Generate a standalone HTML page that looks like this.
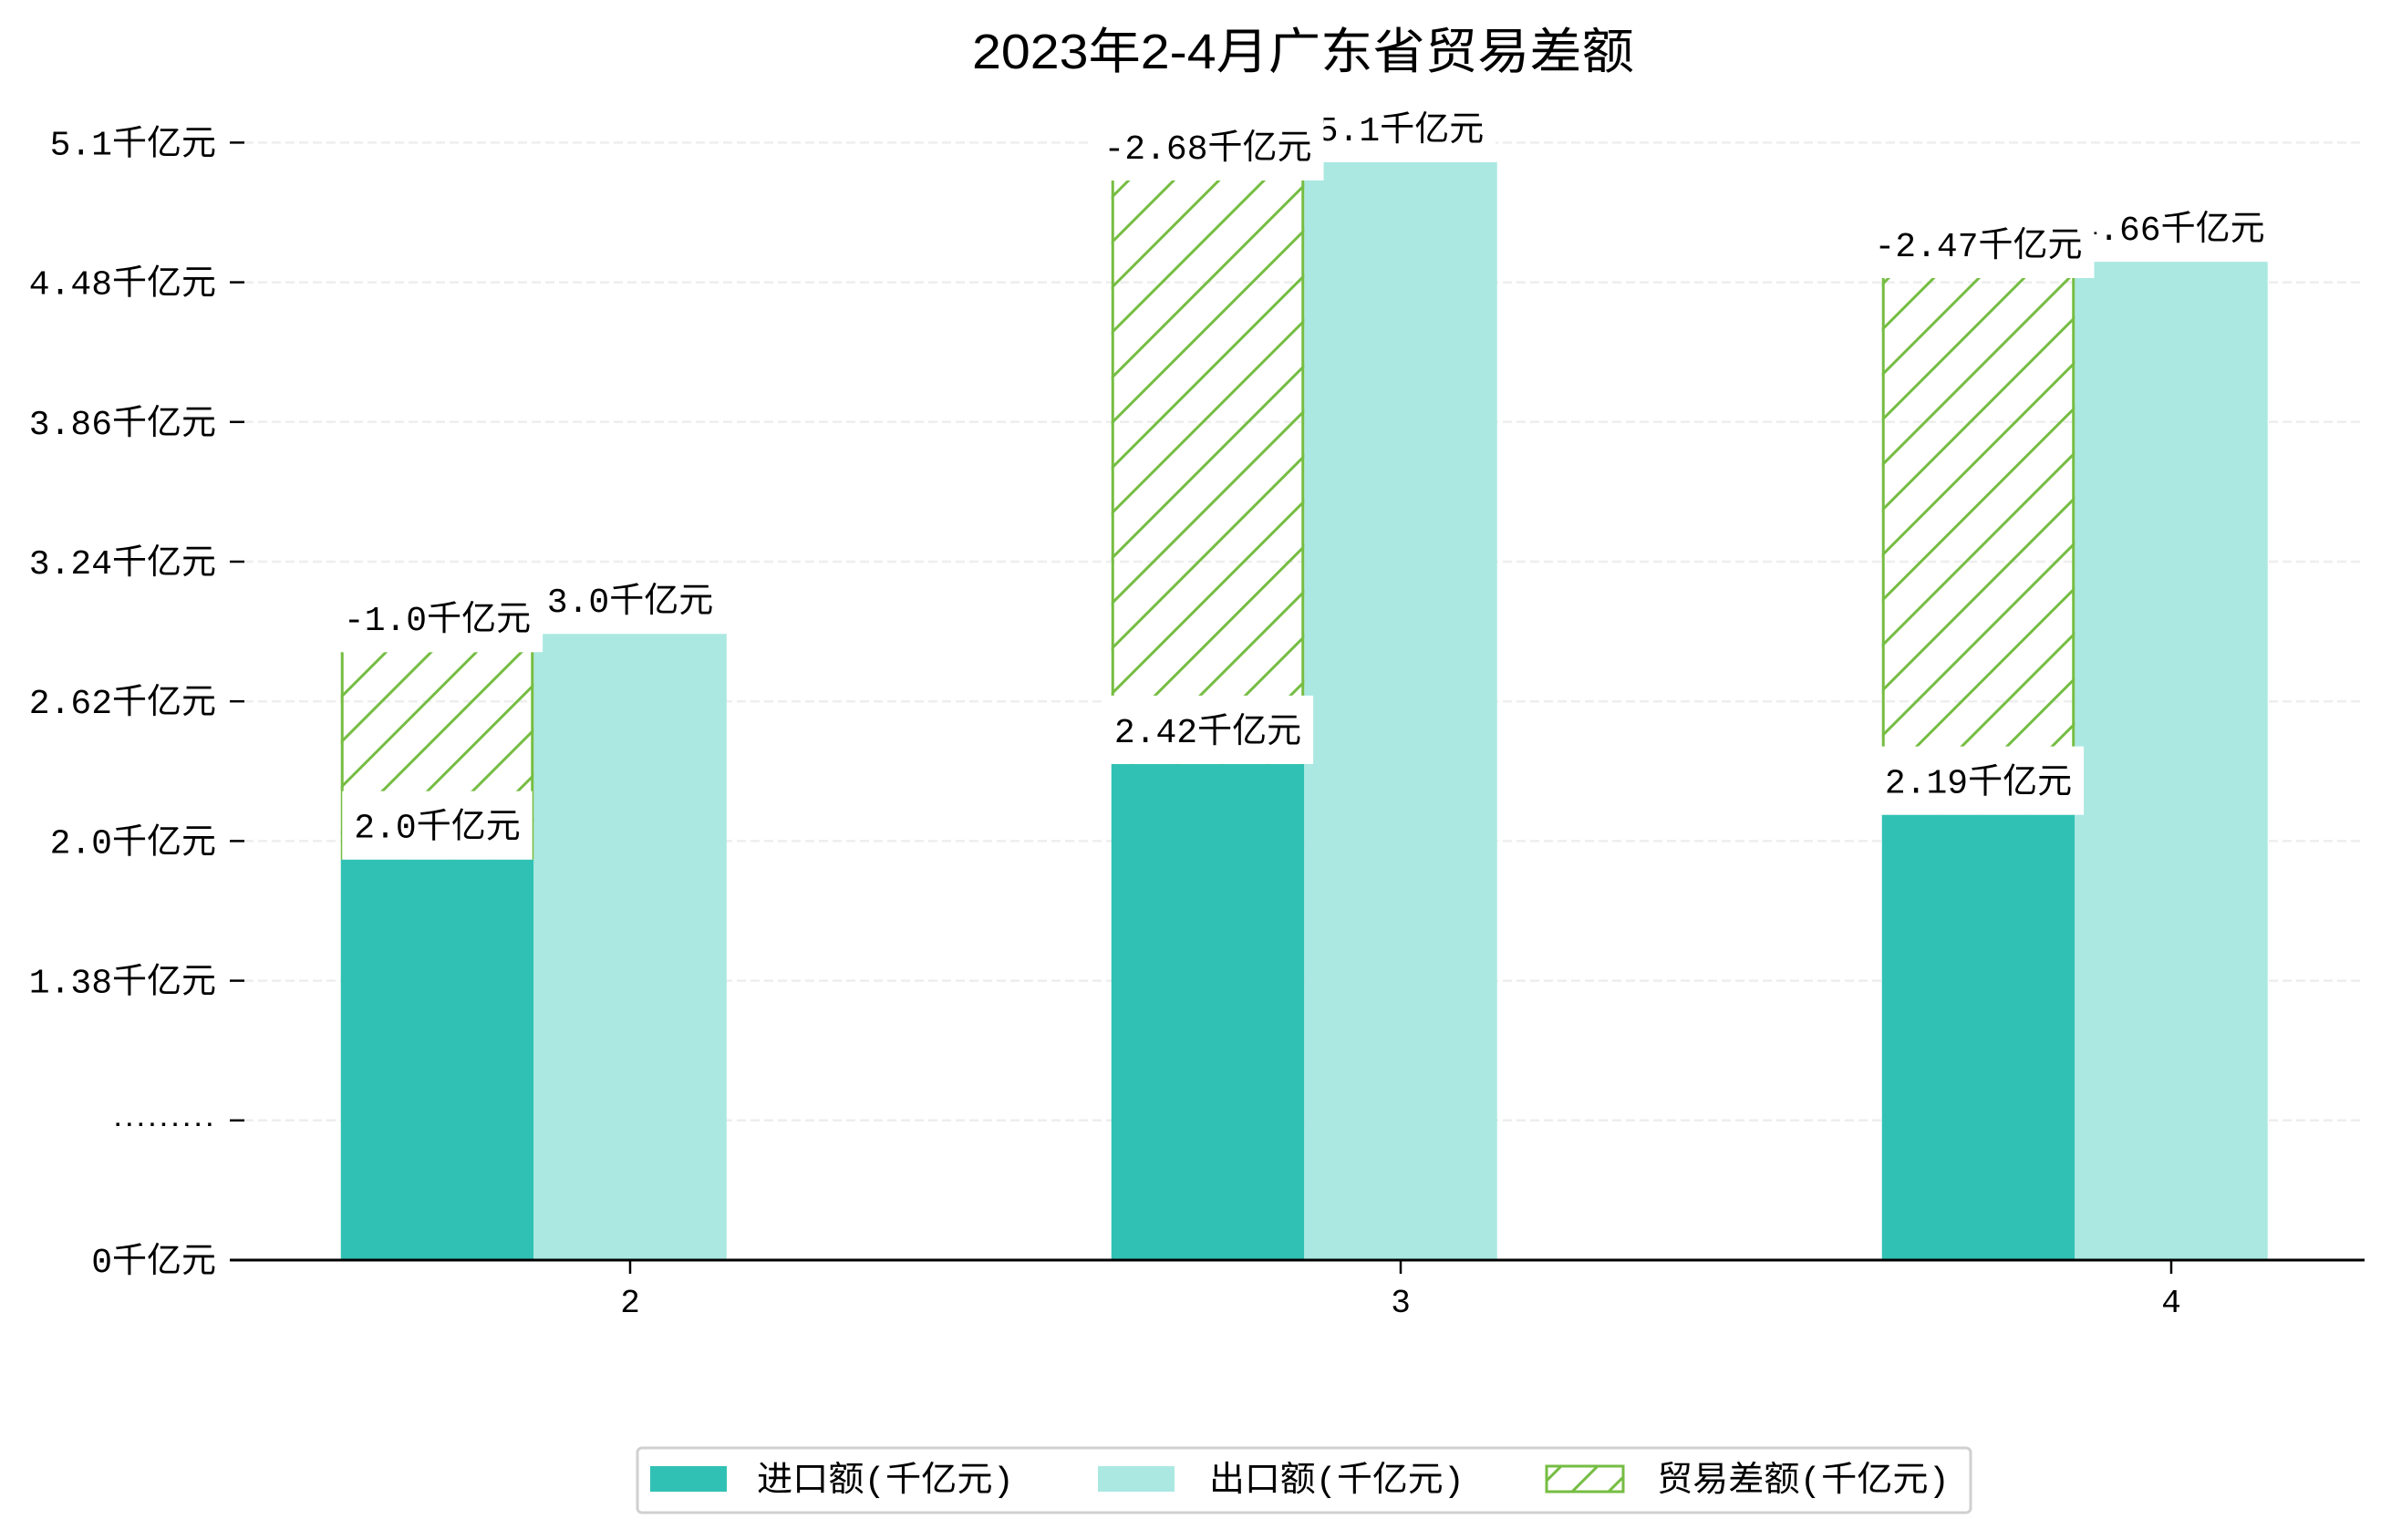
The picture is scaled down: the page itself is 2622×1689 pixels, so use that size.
<!DOCTYPE html>
<html><head><meta charset="utf-8"><style>
html,body{margin:0;padding:0;background:#fff;}
svg{display:block;font-family:"Liberation Mono","Noto Sans CJK SC",monospace;}
</style></head><body>
<svg id="chart" width="2622" height="1689" viewBox="0 0 2622 1689" xmlns="http://www.w3.org/2000/svg">
<defs>
<pattern id="hatch" patternUnits="userSpaceOnUse" width="49.5" height="49.5">
<line x1="0" y1="49.5" x2="49.5" y2="0" stroke="#76bd43" stroke-width="3"/>
<line x1="-10" y1="10" x2="10" y2="-10" stroke="#76bd43" stroke-width="3"/>
<line x1="39.5" y1="59.5" x2="59.5" y2="39.5" stroke="#76bd43" stroke-width="3"/>
</pattern>
<pattern id="hatchLegend" patternUnits="userSpaceOnUse" width="40" height="40">
<line x1="0" y1="40" x2="40" y2="0" stroke="#76bd43" stroke-width="3"/>
</pattern>
</defs>
<text x="1429" y="75" font-size="54" text-anchor="middle" textLength="726" lengthAdjust="spacingAndGlyphs" font-family="Liberation Sans, Noto Sans CJK SC, sans-serif">2023年2-4月广东省贸易差额</text>
<g id="grid"></g>
<g id="yaxis"></g>
<g id="bars"></g>
<g id="labels"></g>
<g id="xaxis"></g>
<g>
<rect x="699" y="1588" width="1462" height="71" rx="5" fill="#fff" stroke="#d0d0d0" stroke-width="3"/>
<rect x="713" y="1608" width="84" height="28" fill="#31c1b4"/>
<text x="830" y="1635" font-size="38" textLength="282" lengthAdjust="spacingAndGlyphs">进口额(千亿元)</text>
<rect x="1204" y="1608" width="84" height="28" fill="#abe8e2"/>
<text x="1326" y="1635" font-size="38" textLength="280" lengthAdjust="spacingAndGlyphs">出口额(千亿元)</text>
<rect x="1696" y="1608" width="84" height="28" fill="url(#hatchLegend)" stroke="#76bd43" stroke-width="3"/>
<text x="1817" y="1635" font-size="38" textLength="321" lengthAdjust="spacingAndGlyphs">贸易差额(千亿元)</text>
</g>
</svg>
<script>
const categories = ['2', '3', '4'];
const importValues = [1.97, 2.44, 2.19];
const exportValues = [3.08, 5.40, 4.91];
const balanceValues = [1.02, 2.87, 2.64];
const importLabels = ['2.0千亿元', '2.42千亿元', '2.19千亿元'];
const exportLabels = ['3.0千亿元', '5.1千亿元', '4.66千亿元'];
const balanceLabels = ['-1.0千亿元', '-2.68千亿元', '-2.47千亿元'];
const yTickLabels = ['0千亿元', '.........', '1.38千亿元', '2.0千亿元', '2.62千亿元', '3.24千亿元', '3.86千亿元', '4.48千亿元', '5.1千亿元'];
const yTickStep = 0.687;

const NS = 'http://www.w3.org/2000/svg';
const baseY = 1382, pxPerUnit = 223;
const plotLeft = 252, plotRight = 2593;
function y(v) { return baseY - v * pxPerUnit; }
function xc(i) { return 691 + i * 845; }
const barW = 211.5;
function mk(tag, attrs, parent) {
  const e = document.createElementNS(NS, tag);
  for (const k in attrs) e.setAttribute(k, attrs[k]);
  parent.appendChild(e);
  return e;
}
const grid = document.getElementById('grid');
const yaxis = document.getElementById('yaxis');
yTickLabels.forEach((lab, i) => {
  const yy = y(i * yTickStep);
  if (i > 0) {
    const g = mk('line', {x1: 268, x2: plotRight, y1: yy, y2: yy, stroke: '#eeeeee', 'stroke-width': 2.5, 'stroke-dasharray': '10 5'}, grid);
    
    
  }
  const t = mk('line', {x1: 252, x2: 268, y1: yy, y2: yy, stroke: '#000', 'stroke-width': 2.5}, yaxis);
  
  
  const tx = mk('text', {x: 237, y: yy + 13, 'font-size': 38, 'text-anchor': 'end'}, yaxis);
  if (lab.indexOf('千') < 0) { tx.setAttribute('font-weight', 'bold'); tx.setAttribute('y', yy + 6); tx.setAttribute('font-size', 24); tx.setAttribute('textLength', 115); }
  tx.textContent = lab;
  
  
});
const bars = document.getElementById('bars');
const labels = document.getElementById('labels');
function label(text, cx, bottom, name) {
  const g = mk('g', {}, labels);
  
  
  const r = mk('rect', {fill: '#fff'}, g);
  const t = mk('text', {x: cx, y: bottom - 24, 'font-size': 38, 'text-anchor': 'middle'}, g);
  t.textContent = text;
  const w = t.getComputedTextLength();
  r.setAttribute('x', cx - w / 2 - 13);
  r.setAttribute('y', bottom - 75);
  r.setAttribute('width', w + 26);
  r.setAttribute('height', 75);
}
categories.forEach((c, i) => {
  const x0 = xc(i) - 1.5 * barW, x1 = xc(i) - 0.5 * barW;
  const bi = mk('rect', {x: x0, y: y(importValues[i]), width: barW, height: importValues[i] * pxPerUnit, fill: '#31c1b4'}, bars);
  
  
  const be = mk('rect', {x: x1, y: y(exportValues[i]), width: barW, height: exportValues[i] * pxPerUnit, fill: '#abe8e2'}, bars);
  
  
  const top = y(importValues[i] + balanceValues[i]);
  const hb = mk('rect', {x: x0, y: top, width: barW, height: balanceValues[i] * pxPerUnit, fill: 'url(#hatch)'}, bars);
  
  
  [x0 + 1.5, x0 + barW - 1.5].forEach(xx => {
    const e = mk('line', {x1: xx, x2: xx, y1: top, y2: y(importValues[i]), stroke: '#76bd43', 'stroke-width': 3}, bars);
    
    
  });
});
categories.forEach((c, i) => {
  const x0c = xc(i) - barW, x1c = xc(i);
  label(importLabels[i], x0c, y(importValues[i]), 'import-value-label');
  label(exportLabels[i], x1c, y(exportValues[i]), 'export-value-label');
  label(balanceLabels[i], x0c, y(importValues[i] + balanceValues[i]), 'balance-value-label');
});
const xaxis = document.getElementById('xaxis');
const ax = mk('line', {x1: plotLeft, x2: plotRight, y1: baseY, y2: baseY, stroke: '#000', 'stroke-width': 3}, xaxis);


categories.forEach((c, i) => {
  const tk = mk('line', {x1: xc(i), x2: xc(i), y1: baseY, y2: baseY + 15, stroke: '#000', 'stroke-width': 2.5}, xaxis);
  
  
  const t = mk('text', {x: xc(i), y: 1439, 'font-size': 36, 'text-anchor': 'middle'}, xaxis);
  t.textContent = c;
  
  
});
</script>
</body></html>
